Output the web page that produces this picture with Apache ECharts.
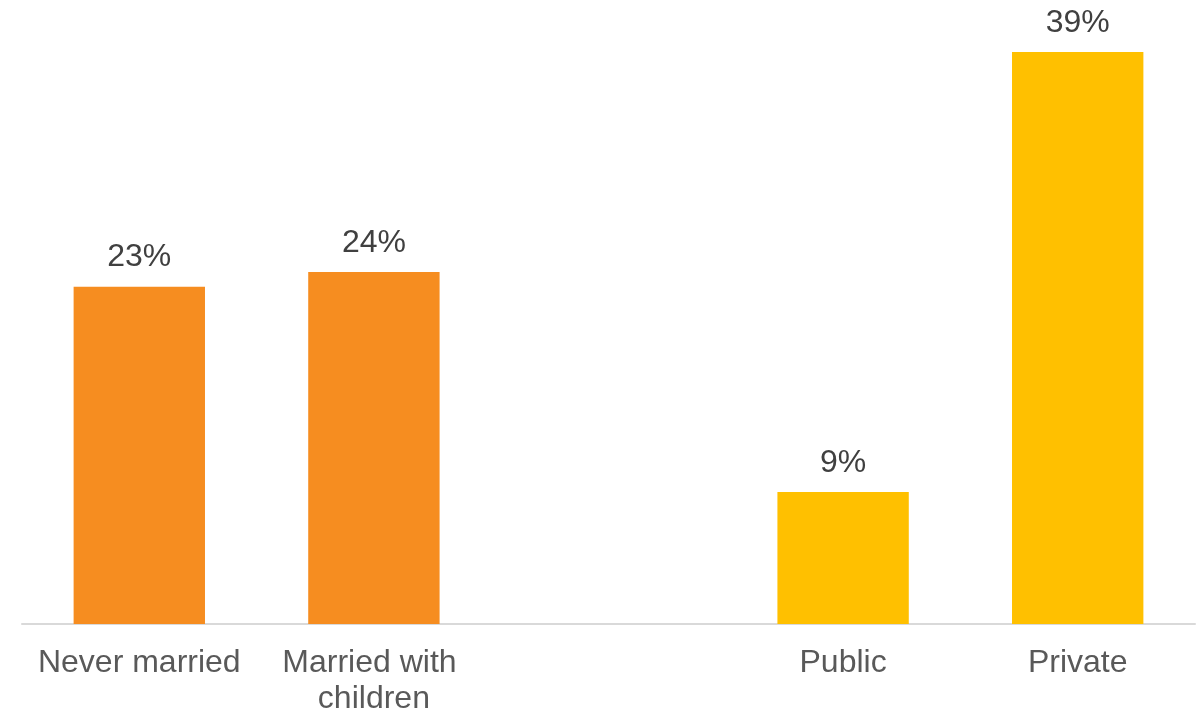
<!DOCTYPE html>
<html>
<head>
<meta charset="utf-8">
<script src="https://cdn.jsdelivr.net/npm/echarts@6/dist/echarts.min.js"></script>
<style>
  html, body { margin: 0; padding: 0; background: #ffffff; }
  #chart { width: 1200px; height: 711px; }
</style>
</head>
<body>
<div id="chart"></div>
<script>
// Share of respondents by group (percent); the empty slot separates the two groups
var categories = ['Never married', 'Married with children', '', 'Public', 'Private'];
var values = [23, 24, null, 9, 39];
var groupOf = [0, 0, null, 1, 1];
var groupColors = ['#F68D20', '#FFC000'];

var chart = echarts.init(document.getElementById('chart'), null, { renderer: 'canvas' });

var barData = values.map(function (v, i) {
  return {
    value: v,
    itemStyle: { color: groupOf[i] === null ? 'transparent' : groupColors[groupOf[i]] }
  };
});

chart.setOption({
  animation: false,
  backgroundColor: '#ffffff',
  textStyle: { fontFamily: 'Liberation Sans, Arial, sans-serif' },
  grid: {
    left: 22,
    right: 5,
    top: 52,
    bottom: 87,
    outerBoundsMode: 'none'
  },
  xAxis: {
    type: 'category',
    data: categories,
    axisLine: { show: true, lineStyle: { color: '#D9D9D9', width: 2 } },
    axisTick: { show: false },
    axisLabel: {
      interval: 0,
      margin: 21,
      color: '#595959',
      fontSize: 32,
      lineHeight: 36,
      width: 230,
      overflow: 'break',
      fontFamily: 'Liberation Sans, Arial, sans-serif'
    }
  },
  yAxis: {
    type: 'value',
    min: 0,
    max: 39,
    show: false,
    splitLine: { show: false }
  },
  series: [{
    type: 'bar',
    data: barData,
    barCategoryGap: '44%',
    label: {
      show: true,
      position: 'top',
      distance: 13,
      color: '#404040',
      fontSize: 32,
      fontFamily: 'Liberation Sans, Arial, sans-serif',
      formatter: function (p) { return p.value == null ? '' : p.value + '%'; }
    }
  }]
});
</script>
</body>
</html>
